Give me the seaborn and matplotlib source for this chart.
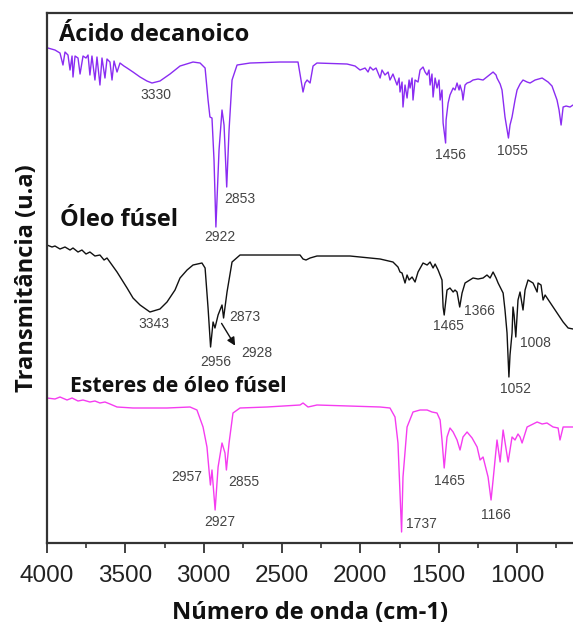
import matplotlib
matplotlib.use("Agg")
import matplotlib.pyplot as plt
import seaborn as sns
import pandas as pd

# ---- data (wavenumber cm-1, transmittance in arbitrary stacked units) ----
acido_wn = [3994, 3949, 3917, 3898, 3885, 3866, 3853, 3840, 3834, 3821, 3802, 3789, 3770, 3751,
            3738, 3726, 3713, 3694, 3681, 3662, 3649, 3630, 3617, 3598, 3585, 3572, 3553, 3534,
            3509, 3489, 3451, 3406, 3362, 3330, 3279, 3215, 3151, 3068, 3023, 2991, 2972, 2960,
            2947, 2934, 2922, 2902, 2883, 2870, 2853, 2838, 2819, 2787, 2704, 2513, 2398, 2379,
            2366, 2353, 2340, 2321, 2302, 2277, 2085, 2034, 2002, 1970, 1951, 1938, 1919, 1900,
            1874, 1862, 1843, 1823, 1811, 1792, 1766, 1753, 1747, 1734, 1728, 1715, 1702, 1689,
            1683, 1670, 1664, 1651, 1632, 1619, 1600, 1587, 1574, 1562, 1555, 1543, 1536, 1523,
            1511, 1498, 1491, 1479, 1472, 1456, 1453, 1440, 1428, 1408, 1396, 1383, 1370, 1364,
            1351, 1345, 1332, 1319, 1300, 1281, 1249, 1217, 1185, 1153, 1134, 1128, 1108, 1096,
            1077, 1055, 1045, 1032, 1013, 1000, 981, 962, 936, 917, 885, 840, 802, 777, 745, 732,
            719, 706, 687, 662, 643]
acido_t = [495, 493, 490, 478, 491, 488, 473, 487, 466, 487, 485, 469, 487, 485,
           488, 468, 487, 463, 486, 458, 485, 465, 484, 481, 463, 482, 471, 480,
           477, 475, 471, 466, 462, 460, 462, 469, 477, 481, 480, 475, 443, 426,
           425, 383, 316, 393, 433, 418, 356, 413, 463, 478, 480, 481, 481, 463,
           451, 460, 463, 460, 477, 480, 479, 477, 473, 475, 471, 476, 473, 475,
           465, 473, 468, 471, 463, 469, 458, 465, 451, 461, 436, 458, 445, 463,
           455, 465, 443, 463, 461, 473, 476, 471, 468, 473, 458, 469, 446, 465,
           455, 463, 443, 453, 420, 400, 423, 440, 448, 455, 453, 460, 453, 458,
           451, 443, 458, 460, 461, 463, 464, 463, 467, 471, 468, 465, 459, 453,
           426, 405, 418, 426, 443, 453, 459, 463, 461, 460, 463, 465, 461, 457, 443, 433,
           418, 436, 437, 436, 438]

oleo_wn = [4000, 3968, 3949, 3917, 3885, 3853, 3834, 3802, 3777, 3751, 3726, 3694, 3662, 3636,
           3617, 3585, 3553, 3521, 3489, 3451, 3406, 3343, 3279, 3234, 3183, 3151, 3106, 3068,
           3011, 2991, 2972, 2956, 2940, 2928, 2908, 2883, 2873, 2851, 2819, 2768, 2557, 2385,
           2366, 2347, 2321, 2277, 2066, 1874, 1792, 1760, 1747, 1734, 1715, 1702, 1689, 1670,
           1651, 1632, 1600, 1574, 1555, 1536, 1523, 1504, 1479, 1472, 1465, 1447, 1428, 1408,
           1396, 1383, 1366, 1351, 1332, 1281, 1249, 1217, 1192, 1172, 1153, 1134, 1121, 1089,
           1077, 1064, 1052, 1045, 1032, 1026, 1019, 1008, 994, 981, 962, 949, 930, 898, 872,
           866, 847, 834, 821, 770, 706, 674, 643]
oleo_t = [298, 296, 297, 294, 296, 293, 295, 291, 293, 289, 291, 287, 288, 283,
          285, 278, 271, 263, 255, 245, 238, 231, 234, 241, 253, 265, 273, 278,
          280, 275, 235, 196, 221, 215, 228, 238, 225, 251, 281, 288, 288, 288,
          284, 283, 285, 287, 287, 284, 281, 276, 271, 270, 260, 268, 263, 266,
          261, 271, 280, 278, 281, 275, 279, 273, 263, 236, 228, 253, 255, 251,
          253, 251, 236, 250, 260, 265, 264, 265, 268, 265, 271, 265, 260, 250,
          233, 210, 166, 188, 210, 236, 228, 206, 243, 251, 233, 253, 263, 260, 251,
          260, 258, 243, 248, 236, 221, 215, 214]

ester_wn = [4000, 3949, 3917, 3872, 3840, 3802, 3770, 3726, 3694, 3662, 3630, 3598, 3553, 3451,
            3234, 3087, 3043, 3004, 2979, 2966, 2957, 2947, 2927, 2908, 2883, 2864, 2855, 2838,
            2813, 2768, 2596, 2385, 2366, 2334, 2277, 1874, 1811, 1779, 1760, 1737, 1728, 1702,
            1664, 1619, 1574, 1543, 1511, 1491, 1479, 1465, 1447, 1428, 1408, 1383, 1364, 1345,
            1319, 1287, 1255, 1236, 1217, 1185, 1166, 1153, 1128, 1108, 1089, 1057, 1032, 1013,
            994, 981, 968, 936, 872, 840, 809, 770, 738, 726, 706, 643]
ester_t = [145, 144, 146, 143, 145, 142, 143, 141, 142, 140, 141, 139, 136, 135,
           135, 136, 133, 116, 96, 73, 58, 73, 33, 76, 100, 90, 73, 100,
           130, 135, 136, 138, 140, 136, 138, 136, 135, 126, 100, 11, 66, 116,
           131, 133, 133, 131, 130, 123, 103, 75, 106, 115, 111, 103, 93, 106,
           111, 105, 96, 83, 86, 66, 43, 63, 103, 81, 113, 81, 106, 103,
           109, 106, 100, 116, 121, 119, 120, 116, 115, 103, 116, 116]

series_names = ["Ácido decanoico", "Óleo fúsel", "Esteres de óleo fúsel"]
series_colors = ["#8a2cf2", "#111111", "#f53cf0"]
xticks = [4000, 3500, 3000, 2500, 2000, 1500, 1000]

# peak labels: (text, x_wn, y_value)
acido_peaks = [("3330", 3304, 448), ("2922", 2896, 306), ("2853", 2768, 344),
               ("1456", 1428, 388), ("1055", 1032, 392)]
oleo_peaks = [("3343", 3317, 219), ("2873", 2736, 226), ("2956", 2921, 181),
              ("2928", 2660, 190), ("1465", 1440, 217), ("1366", 1243, 232),
              ("1008", 885, 200), ("1052", 1013, 154)]
ester_peaks = [("2957", 3106, 66), ("2855", 2743, 61), ("2927", 2896, 21),
               ("1737", 1613, 19), ("1465", 1434, 62), ("1166", 1134, 28)]

frames = []
for name, wn, t in zip(series_names, [acido_wn, oleo_wn, ester_wn], [acido_t, oleo_t, ester_t]):
    frames.append(pd.DataFrame({"wn": wn, "t": t, "amostra": name}))
df = pd.concat(frames, ignore_index=True)

sns.set_theme(style="white")
plt.rcParams["font.family"] = ["Liberation Sans", "DejaVu Sans"]

fig = plt.figure(figsize=(5.73, 6.26), dpi=100)
ax = fig.add_axes([0.082, 0.1326, 0.918, 0.8466])

sns.lineplot(data=df, x="wn", y="t", hue="amostra", palette=series_colors,
             hue_order=series_names, sort=False, estimator=None, lw=1.0,
             legend=False, ax=ax)

ax.set_xlim(4000, 643)
ax.set_ylim(0, 530)
ax.set_yticks([])
ax.set_xticks(xticks)
ax.set_xticklabels([str(v) for v in xticks])
ax.set_xticks([3750, 3250, 2750, 2250, 1750, 1250, 750], minor=True)
ax.tick_params(axis="x", which="major", direction="out", length=7, width=1.3,
               color="#333333", labelsize=17.5, labelcolor="#222222", pad=9,
               bottom=True)
ax.tick_params(axis="x", which="minor", direction="out", length=3.5, width=1.2,
               color="#333333", bottom=True)
for side in ["left", "bottom", "top"]:
    ax.spines[side].set_visible(True)
    ax.spines[side].set_color("#333333")
    ax.spines[side].set_linewidth(1.6)
ax.spines["right"].set_visible(False)

ax.set_xlabel("Número de onda (cm-1)", fontsize=17, fontweight="bold",
              family=["Open Sans", "DejaVu Sans"], color="#111111", labelpad=10)
ax.set_ylabel("Transmitância (u.a)", fontsize=17, fontweight="bold",
              family=["Open Sans", "DejaVu Sans"], color="#111111", labelpad=6)

title_font = dict(fontweight="bold", family=["Open Sans", "DejaVu Sans"], color="#111111")
ax.text(3925, 502, series_names[0], ha="left", va="baseline", fontsize=17, **title_font)
ax.text(3919, 317, series_names[1], ha="left", va="baseline", fontsize=17, **title_font)
ax.text(3855, 151, series_names[2], ha="left", va="baseline", fontsize=15.3, **title_font)

for peaks in [acido_peaks, oleo_peaks, ester_peaks]:
    for txt, x, y in peaks:
        ax.text(x, y, txt, ha="center", va="center", fontsize=10, color="#444444")

ax.annotate("", xy=(2790, 195), xytext=(2895, 222),
            arrowprops=dict(arrowstyle="-|>", color="#111111", lw=1.0,
                            mutation_scale=12))

fig.savefig("out.png", dpi=100)
